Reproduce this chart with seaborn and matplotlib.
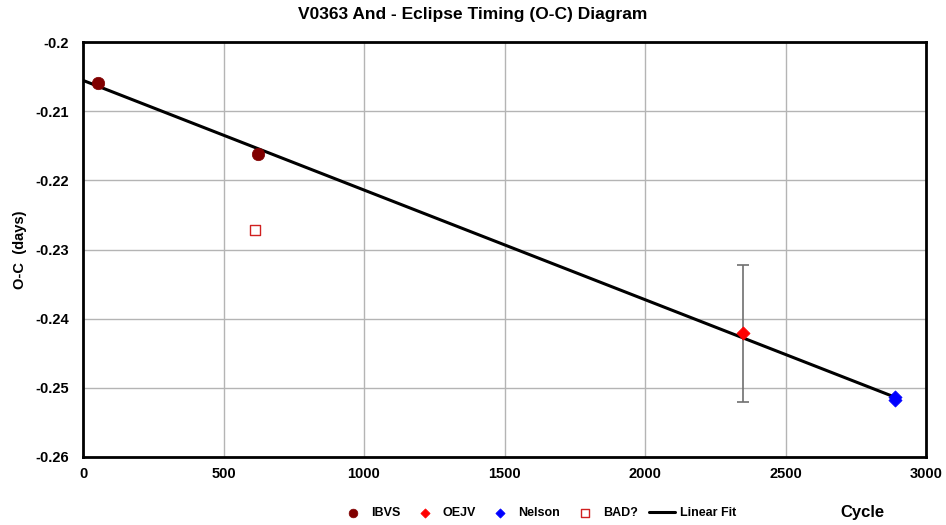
import numpy as np
import matplotlib
matplotlib.use("Agg")
import matplotlib.pyplot as plt
import seaborn as sns
import pandas as pd

ibvs_cycle = [53, 623]
ibvs_oc = [-0.2059, -0.2162]
oejv_cycle = [2349]
oejv_oc = [-0.2421]
oejv_err = [0.0099]
nelson_cycle = [2889, 2890]
nelson_oc = [-0.2513, -0.2518]
bad_cycle = [612]
bad_oc = [-0.2272]

x_ticks = [0, 500, 1000, 1500, 2000, 2500, 3000]
y_ticks = [-0.26, -0.25, -0.24, -0.23, -0.22, -0.21, -0.2]
y_tick_labels = ["-0.26", "-0.25", "-0.24", "-0.23", "-0.22", "-0.21", "-0.2"]

sns.set_style("white")
plt.rcParams['font.family'] = ['Liberation Sans', 'DejaVu Sans']
plt.rcParams['text.color'] = 'black'
plt.rcParams['xtick.color'] = 'black'
plt.rcParams['ytick.color'] = 'black'
plt.rcParams['axes.labelcolor'] = 'black'

df = pd.DataFrame({
    'cycle': ibvs_cycle + oejv_cycle + nelson_cycle,
    'oc': ibvs_oc + oejv_oc + nelson_oc,
    'source': ['IBVS'] * len(ibvs_cycle) + ['OEJV'] * len(oejv_cycle) + ['Nelson'] * len(nelson_cycle),
})

fig = plt.figure(figsize=(9.46, 5.25), dpi=100)
ax = fig.add_axes([83 / 946, 1 - 457 / 525, (926 - 83) / 946, (457 - 42) / 525])

# linear fit through the good points
slope, intercept = np.polyfit(df['cycle'], df['oc'], 1)
fit_x = np.array([0, max(nelson_cycle)])
ax.plot(fit_x, intercept + slope * fit_x, color='black', lw=2.2, zorder=3, label='Linear Fit')

ax.errorbar(oejv_cycle, oejv_oc, yerr=oejv_err, fmt='none', ecolor='#707070',
            elinewidth=1.2, capsize=4, capthick=1.2, zorder=2)

palette = {'IBVS': '#800000', 'OEJV': '#ff0000', 'Nelson': '#0000ff'}
markers = {'IBVS': 'o', 'OEJV': 'D', 'Nelson': 'D'}
sizes = {'IBVS': 80, 'OEJV': 45, 'Nelson': 45}
for src in ['IBVS', 'OEJV', 'Nelson']:
    sub = df[df['source'] == src]
    sns.scatterplot(data=sub, x='cycle', y='oc', ax=ax, color=palette[src],
                    marker=markers[src], s=sizes[src], edgecolor=palette[src],
                    linewidth=0.5, zorder=4, label=src)

ax.scatter(bad_cycle, bad_oc, marker='s', s=60, facecolor='white',
           edgecolor='#d02020', linewidth=1, zorder=4, label='BAD?')

ax.set_xlim(0, 3000)
ax.set_ylim(-0.26, -0.2)
ax.set_xticks(x_ticks)
ax.set_yticks(y_ticks)
ax.set_xticklabels([str(t) for t in x_ticks], fontweight='bold', fontsize=10.5)
ax.set_yticklabels(y_tick_labels, fontweight='bold', fontsize=10.5)
ax.tick_params(axis='y', length=4, width=0.8, direction='out', pad=6, color='#555555')
ax.tick_params(axis='x', length=0, pad=7)
ax.grid(True, color='#b4b4b4', lw=1)
ax.set_axisbelow(True)
for sp in ax.spines.values():
    sp.set_color('black')
    sp.set_linewidth(2)

ax.set_xlabel('')
ax.set_ylabel('O-C  (days)', fontweight='bold', fontsize=10.5, labelpad=6)
fig.text(862 / 946, 1 - 512 / 525, 'Cycle', fontweight='bold', fontsize=12,
         ha='center', va='center')
fig.suptitle('V0363 And - Eclipse Timing (O-C) Diagram', fontweight='bold',
             fontsize=12.5, y=1 - 15 / 525, va='center')

handles, labels = ax.get_legend_handles_labels()
order = ['IBVS', 'OEJV', 'Nelson', 'BAD?', 'Linear Fit']
hmap = dict(zip(labels, handles))
leg = fig.legend([hmap[k] for k in order], ['IBVS', 'OEJV', 'Nelson', 'BAD?', 'Linear Fit'],
                 loc='center', bbox_to_anchor=(538 / 946, 1 - 513 / 525), ncol=5,
                 frameon=False, prop={'weight': 'bold', 'size': 9},
                 handlelength=2.1, handletextpad=0.4, columnspacing=0.9,
                 markerscale=0.7)
if ax.get_legend() is not None:
    ax.get_legend().remove()

fig.savefig('out.png', dpi=100)
plt.close(fig)
